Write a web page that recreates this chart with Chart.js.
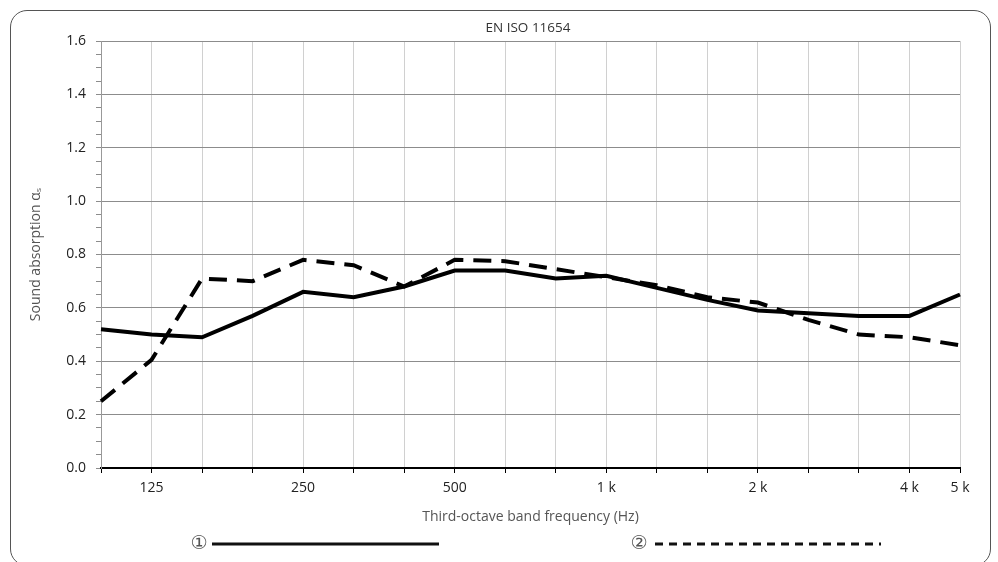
<!DOCTYPE html>
<html>
<head>
<meta charset="utf-8">
<script src="https://cdn.jsdelivr.net/npm/chart.js@4.4.1/dist/chart.umd.min.js"></script>
<style>
  html, body { margin: 0; padding: 0; width: 998px; height: 562px; overflow: hidden; background: #fff; }
  #wrap { position: relative; width: 998px; height: 562px; }
  #frame { position: absolute; left: 10px; top: 10px; width: 979px; height: 554px; border: 1.5px solid #555; border-radius: 17px; pointer-events: none; }
  canvas { position: absolute; left: 0; top: 0; }
</style>
</head>
<body>
<div id="wrap">
  <canvas id="c" width="998" height="562"></canvas>
  <div id="frame"></div>
</div>
<script>
const bands = ["100","125","160","200","250","315","400","500","630","800","1000","1250","1600","2000","2500","3150","4000","5000"];
const shownLabels = {"125":"125","250":"250","500":"500","1000":"1 k","2000":"2 k","4000":"4 k","5000":"5 k"};
const series1 = [0.52,0.50,0.49,0.57,0.66,0.64,0.68,0.74,0.74,0.71,0.72,0.675,0.63,0.59,0.58,0.57,0.57,0.65];
const series2 = [0.25,0.405,0.71,0.70,0.78,0.76,0.68,0.78,0.775,0.745,0.715,0.685,0.64,0.62,0.555,0.50,0.49,0.46];
const legendNames = ["\u2460","\u2461"];
const chartTitle = "EN ISO 11654";
const xTitle = "Third-octave band frequency (Hz)";
const yTitle = "Sound absorption \u03B1\u209B";

const FONT = "'Open Sans', 'DejaVu Sans', sans-serif";

const extras = {
  id: 'extras',
  afterDraw(chart) {
    const ctx = chart.ctx;
    ctx.save();
    // title
    ctx.fillStyle = '#333';
    ctx.font = "13.5px " + FONT;
    ctx.textAlign = 'center';
    ctx.textBaseline = 'middle';
    ctx.fillText(chartTitle, 528, 28);
    // legend
    const ly = 544;
    ctx.font = "19px 'DejaVu Sans', sans-serif";
    ctx.fillStyle = '#555';
    ctx.fillText(legendNames[0], 199, ly);
    ctx.fillText(legendNames[1], 639, ly);
    ctx.strokeStyle = '#111';
    ctx.lineWidth = 3;
    ctx.beginPath();
    ctx.moveTo(212, ly); ctx.lineTo(439, ly);
    ctx.stroke();
    ctx.setLineDash([8, 6]);
    ctx.beginPath();
    ctx.moveTo(655, ly); ctx.lineTo(881, ly);
    ctx.stroke();
    ctx.restore();
  }
};

new Chart(document.getElementById('c'), {
  type: 'line',
  data: {
    labels: bands,
    datasets: [
      { label: legendNames[0], data: series1, borderColor: '#000', borderWidth: 4, pointRadius: 0, tension: 0, fill: false },
      { label: legendNames[1], data: series2, borderColor: '#000', borderWidth: 4, pointRadius: 0, tension: 0, fill: false, borderDash: [18, 10] }
    ]
  },
  options: {
    responsive: false,
    animation: false,
    layout: { padding: { left: 10, right: 38, top: 41, bottom: 34 } },
    plugins: { legend: { display: false }, title: { display: false }, tooltip: { enabled: false } },
    scales: {
      x: {
        type: 'category',
        offset: false,
        afterFit(scale) { scale.height = 60; },
        grid: { color: '#d0d0d0', lineWidth: 1, drawTicks: true, tickLength: 5, tickColor: '#000', offset: false },
        border: { display: true, color: '#000', width: 2 },
        ticks: {
          autoSkip: false, maxRotation: 0, padding: 7,
          color: '#222', font: { family: FONT, size: 14 },
          callback(v) { const b = bands[v]; return shownLabels[b] || ''; }
        },
        title: { display: true, text: xTitle, color: '#555', font: { family: FONT, size: 14 }, padding: { top: 0, bottom: 3 } }
      },
      y: {
        min: 0, max: 1.6,
        afterFit(scale) { scale.width = 91; },
        grid: {
          drawTicks: true, tickLength: 5,
          color(ctx) {
            const v = ctx.tick ? ctx.tick.value : 0;
            const k = Math.round(v * 100);
            if (k === 0) return '#000';
            return (k % 20 === 0) ? '#8c8c8c' : 'rgba(0,0,0,0)';
          },
          tickColor: '#8c8c8c'
        },
        border: { display: true, color: '#999', width: 1 },
        ticks: {
          stepSize: 0.05, autoSkip: false, padding: 10,
          color: '#222', font: { family: FONT, size: 14 },
          callback(v) { const k = Math.round(v * 100); return (k % 20 === 0) ? (k / 100).toFixed(1) : ''; }
        },
        title: { display: true, text: yTitle, color: '#555', font: { family: FONT, size: 14 }, padding: { top: 18, bottom: 0 } }
      }
    }
  },
  plugins: [extras]
});
</script>
</body>
</html>
